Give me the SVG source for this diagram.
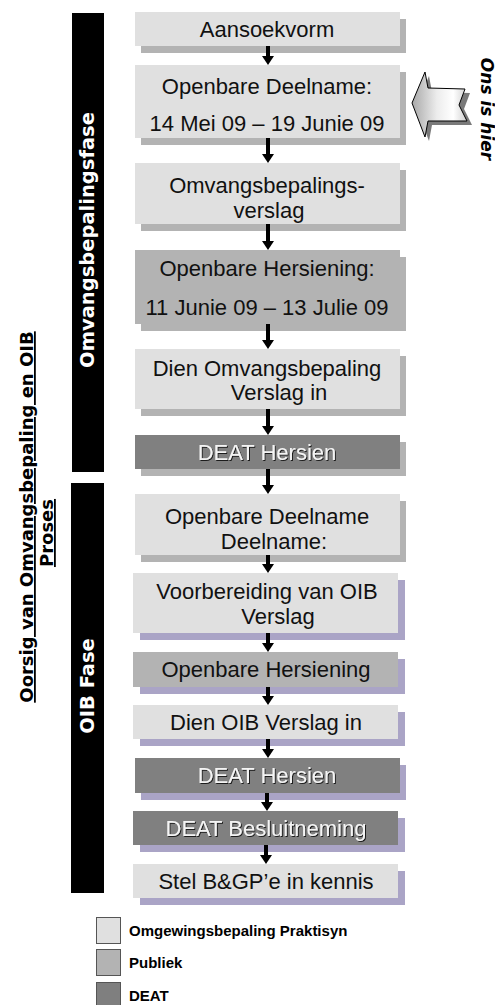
<svg xmlns="http://www.w3.org/2000/svg" width="495" height="1005" viewBox="0 0 495 1005">
<style>
.bx{font-family:"Liberation Sans",Arial,sans-serif;font-size:22px;fill:#111;text-anchor:middle}
.dt{font-family:"Liberation Sans",Arial,sans-serif;font-size:22px;fill:#f4f4f4;text-anchor:middle;filter:url(#emb)}
.lt{fill:#e0e0e0}
.pb{fill:#b3b3b3}
.de{fill:#808080}
.sg{fill:#b3b3b3}
.sl{fill:#aaa4c6}
.bar{fill:#000}
.bt{font-family:"DejaVu Sans",Verdana,sans-serif;font-weight:bold;font-size:19.5px;fill:#fff;text-anchor:middle}
.tt{font-family:"DejaVu Sans",Verdana,sans-serif;font-weight:bold;font-size:18px;fill:#000;text-anchor:middle;text-decoration:underline}
.lg{font-family:"Liberation Sans",Arial,sans-serif;font-weight:bold;font-size:15px;fill:#000}
.conn line{stroke:#000;stroke-width:4;marker-end:url(#ah)}
</style>
<defs>
<marker id="ah" markerUnits="userSpaceOnUse" markerWidth="9" markerHeight="12" refX="3" refY="6" orient="auto"><path d="M0,0 L9,6 L0,12 z" fill="#000"/></marker>
<filter id="emb" x="-5%" y="-20%" width="110%" height="140%"><feDropShadow dx="1" dy="1" stdDeviation="0.4" flood-color="#1a1a1a" flood-opacity="1"/></filter>
<linearGradient id="ag" x1="0" y1="0" x2="1" y2="0"><stop offset="0" stop-color="#a8a8a8"/><stop offset="0.45" stop-color="#ececec"/><stop offset="0.75" stop-color="#ffffff"/><stop offset="1" stop-color="#cfcfcf"/></linearGradient>
</defs>
<rect width="495" height="1005" fill="#fff"/>

<g id="title">
<text class="tt" transform="translate(33,517) rotate(-90)">Oorsig van Omvangsbepaling en OIB</text>
<text class="tt" transform="translate(53,533) rotate(-90)">Proses</text>
</g>

<g id="phase1">
<rect class="bar" x="72" y="13" width="32" height="459"/>
<text class="bt" transform="translate(94,240) rotate(-90)">Omvangsbepalingsfase</text>
</g>
<g id="phase2">
<rect class="bar" x="71" y="483" width="33" height="410"/>
<text class="bt" transform="translate(94,686) rotate(-90)">OIB Fase</text>
</g>

<g id="n1"><rect class="sg" x="141" y="19" width="265" height="34"/><rect class="lt" x="135" y="12" width="265" height="34"/><text class="bx" x="267" y="37">Aansoekvorm</text></g>
<g id="n2"><rect class="sg" x="141" y="72" width="265" height="73"/><rect class="lt" x="135" y="65" width="265" height="73"/><text class="bx" x="267" y="94">Openbare Deelname:</text><text class="bx" x="267" y="131">14 Mei 09 – 19 Junie 09</text></g>
<g id="n3"><rect class="sg" x="141" y="170" width="265" height="61"/><rect class="lt" x="135" y="163" width="265" height="61"/><text class="bx" x="267" y="193">Omvangsbepalings-</text><text class="bx" x="269" y="218">verslag</text></g>
<g id="n4"><rect class="sg" x="141" y="257" width="265" height="74"/><rect class="pb" x="135" y="250" width="265" height="74"/><text class="bx" x="267" y="276">Openbare Hersiening:</text><text class="bx" x="267" y="315">11 Junie 09 – 13 Julie 09</text></g>
<g id="n5"><rect class="sg" x="141" y="356" width="265" height="60"/><rect class="lt" x="135" y="349" width="265" height="60"/><text class="bx" x="267" y="376">Dien Omvangsbepaling</text><text class="bx" x="279" y="400">Verslag in</text></g>
<g id="n6"><rect class="sg" x="141" y="442" width="265" height="34"/><rect class="de" x="135" y="435" width="265" height="34"/><text class="dt" x="267" y="460">DEAT Hersien</text></g>
<g id="n7"><rect class="sg" x="141" y="501" width="265" height="61"/><rect class="lt" x="135" y="494" width="265" height="61"/><text class="bx" x="267" y="524">Openbare Deelname</text><text class="bx" x="274" y="549">Deelname:</text></g>
<g id="n8"><rect class="sl" x="140" y="580" width="265" height="60"/><rect class="lt" x="133" y="573" width="265" height="60"/><text class="bx" x="267" y="599">Voorbereiding van OIB</text><text class="bx" x="278" y="624">Verslag</text></g>
<g id="n9"><rect class="sl" x="140" y="659" width="265" height="35"/><rect class="pb" x="133" y="652" width="265" height="35"/><text class="bx" x="266" y="677">Openbare Hersiening</text></g>
<g id="n10"><rect class="sl" x="140" y="712" width="265" height="34"/><rect class="lt" x="133" y="705" width="265" height="34"/><text class="bx" x="266" y="730">Dien OIB Verslag in</text></g>
<g id="n11"><rect class="sl" x="141" y="765" width="265" height="35"/><rect class="de" x="135" y="758" width="265" height="35"/><text class="dt" x="267" y="783">DEAT Hersien</text></g>
<g id="n12"><rect class="sl" x="140" y="818" width="265" height="34"/><rect class="de" x="133" y="811" width="265" height="34"/><text class="dt" x="266" y="836">DEAT Besluitneming</text></g>
<g id="n13"><rect class="sl" x="140" y="871" width="265" height="34"/><rect class="lt" x="133" y="864" width="265" height="34"/><text class="bx" x="266" y="889">Stel B&amp;GP’e in kennis</text></g>

<g id="connectors" class="conn">
<line x1="268" y1="46" x2="268" y2="59"/>
<line x1="268" y1="138" x2="268" y2="157"/>
<line x1="268" y1="224" x2="268" y2="244"/>
<line x1="268" y1="324" x2="268" y2="343"/>
<line x1="268" y1="409" x2="268" y2="429"/>
<line x1="268" y1="469" x2="268" y2="488"/>
<line x1="268" y1="555" x2="268" y2="567"/>
<line x1="268" y1="633" x2="268" y2="646"/>
<line x1="268" y1="687" x2="268" y2="699"/>
<line x1="268" y1="739" x2="268" y2="752"/>
<line x1="267" y1="793" x2="267" y2="805"/>
<line x1="266" y1="845" x2="266" y2="858"/>
</g>

<g id="here">
<path d="M416,107 L429,76 L432,92 L470,93 L464,109 L472,125 L432,125 L429,141 Z" fill="#7a7a7a"/>
<path d="M412,103 L425,72 L428,88 L465,89 L459,105 L467,121 L428,121 L425,137 Z" fill="url(#ag)" stroke="#000" stroke-width="1"/>
<text transform="translate(481,109) rotate(90)" font-family="'DejaVu Sans',Verdana,sans-serif" font-weight="bold" font-style="italic" font-size="17" text-anchor="middle" fill="#000">Ons is hier</text>
</g>

<g id="legend">
<rect x="96.5" y="917.5" width="24" height="26" fill="#e0e0e0" stroke="#555" stroke-width="1"/>
<text class="lg" x="129" y="936">Omgewingsbepaling Praktisyn</text>
<rect x="96.5" y="949.5" width="24" height="26" fill="#b3b3b3" stroke="#555" stroke-width="1"/>
<text class="lg" x="129" y="968">Publiek</text>
<rect x="96.5" y="982.5" width="24" height="26" fill="#7f7f7f" stroke="#555" stroke-width="1"/>
<text class="lg" x="129" y="1001">DEAT</text>
</g>
</svg>
